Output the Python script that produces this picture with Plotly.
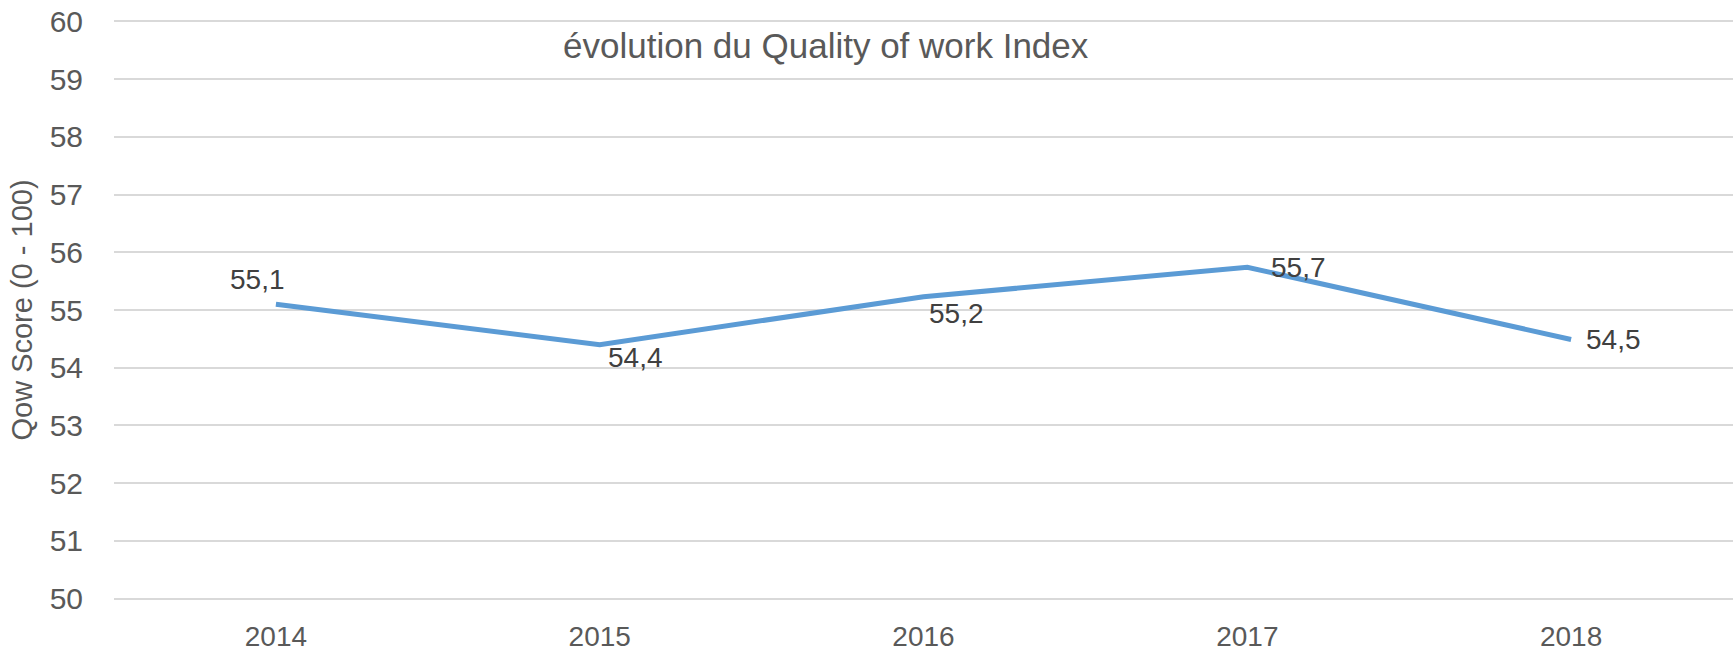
import plotly.graph_objects as go

years = ["2014", "2015", "2016", "2017", "2018"]
scores = [55.1, 54.4, 55.23, 55.74, 54.49]
title_text = "évolution du Quality of work Index"
y_title = "Qow Score (0 - 100)"
y_ticks = [50, 51, 52, 53, 54, 55, 56, 57, 58, 59, 60]

# label offsets in pixels (x, y) relative to each point
label_offsets = [(-18, 25), (36, -13), (33, -17), (51, 0), (42, 0)]

FONT = "Liberation Sans"
GREY = "#595959"

fig = go.Figure()
fig.add_trace(go.Scatter(
    x=years, y=scores, mode="lines",
    line=dict(color="#5B9BD5", width=5),
    hoverinfo="skip", showlegend=False,
))

for i, (v, (dx, dy)) in enumerate(zip(scores, label_offsets)):
    fig.add_annotation(
        x=i, y=v, xref="x", yref="y", text=f"{v:.1f}".replace(".", ","), showarrow=False,
        xshift=dx, yshift=dy, font=dict(family=FONT, size=28, color="#404040"),
    )

fig.add_annotation(
    x=0.44, y=0.955, xref="paper", yref="paper", text=title_text,
    xanchor="center", yanchor="middle",
    showarrow=False, font=dict(family=FONT, size=35, color=GREY),
)

fig.update_layout(
    width=1736, height=654,
    margin=dict(l=114, r=3, t=19, b=53),
    paper_bgcolor="white", plot_bgcolor="white",
    font=dict(family=FONT, color=GREY),
    xaxis=dict(
        type="category", range=[-0.5, 4.5], showgrid=False, zeroline=False,
        showline=False, ticks="outside", ticklen=10, tickcolor="white",
        tickfont=dict(family=FONT, size=28, color=GREY), automargin=False,
    ),
    yaxis=dict(
        range=[49.96, 60.04], tickvals=y_ticks, showgrid=True, gridcolor="#D9D9D9",
        gridwidth=1.5, zeroline=False, showline=False,
        ticks="outside", ticklen=24, tickcolor="white",
        tickfont=dict(family=FONT, size=30, color=GREY), automargin=False,
        title=dict(text=y_title, font=dict(family=FONT, size=29, color=GREY), standoff=8),
    ),
)

fig.write_html("out.html", config={"displayModeBar": False},
               post_script="document.body.style.margin='0';")
